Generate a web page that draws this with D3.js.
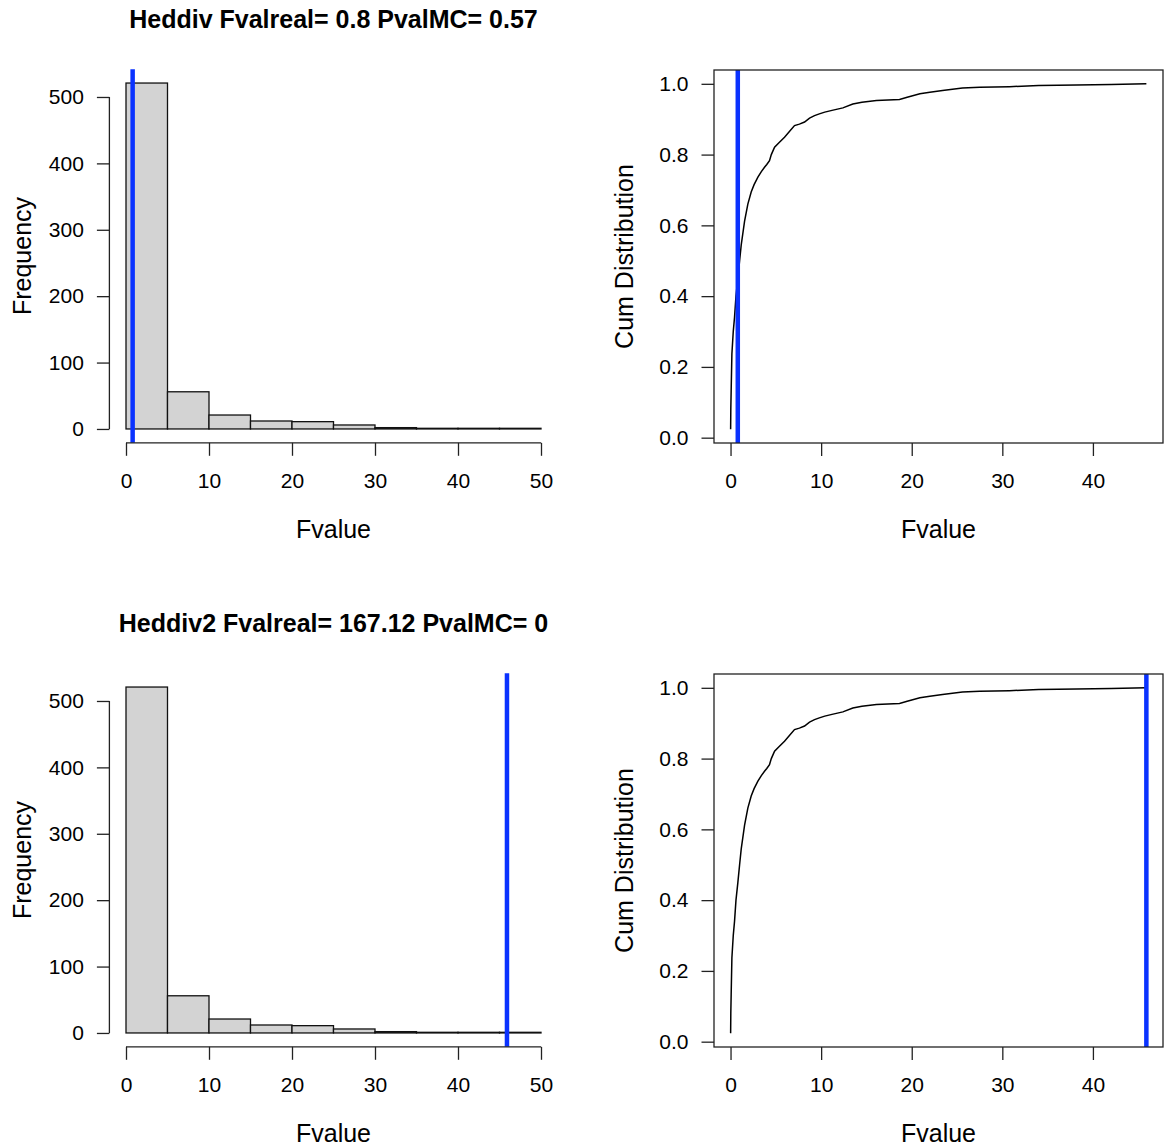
<!DOCTYPE html>
<html>
<head>
<meta charset="utf-8">
<script src="https://cdn.jsdelivr.net/npm/d3@7"></script>
<style>
  html, body { margin: 0; padding: 0; background: #fff; }
  svg { display: block; }
  text { font-family: "Liberation Sans", Arial, Helvetica, sans-serif; fill: #000; }
</style>
</head>
<body>
<svg id="chart" width="1167" height="1146"></svg>
<script>
// ---------- data ----------
const titles = ["Heddiv Fvalreal= 0.8 PvalMC= 0.57", "Heddiv2 Fvalreal= 167.12 PvalMC= 0"];
const fvalLines = [0.8, 45.9];
const histBreaks = [0, 5, 10, 15, 20, 25, 30, 35, 40, 45, 50];
const histCounts = [521, 56, 21, 12, 11, 6, 2, 1, 1, 1];
const histXTicks = [0, 10, 20, 30, 40, 50];
const histYTicks = [0, 100, 200, 300, 400, 500];
const cdfXTicks = [0, 10, 20, 30, 40];
const cdfYTicks = [0, 0.2, 0.4, 0.6, 0.8, 1.0];
const cdfX = [0.01, 0.03, 0.07, 0.15, 0.3, 0.44, 0.6, 0.81, 1.0, 1.18, 1.55, 1.91, 2.28, 2.6, 3.02, 3.4, 3.75, 4.0, 4.3, 4.5, 4.86, 5.4, 5.96, 6.5, 7.06, 7.6, 8.17, 8.72, 9.27, 9.8, 10.4, 11.2, 12.4, 13.5, 14.5, 16.1, 18.65, 19.5, 20.9, 22.0, 23.4, 25.6, 27.5, 30.8, 34.0, 38.2, 42.0, 45.9];
const cdfY = [0.024, 0.08, 0.134, 0.237, 0.30, 0.34, 0.40, 0.45, 0.50, 0.545, 0.612, 0.66, 0.694, 0.715, 0.736, 0.752, 0.764, 0.772, 0.783, 0.80, 0.821, 0.835, 0.849, 0.865, 0.882, 0.886, 0.892, 0.903, 0.910, 0.915, 0.920, 0.925, 0.932, 0.943, 0.948, 0.953, 0.956, 0.962, 0.972, 0.976, 0.981, 0.988, 0.990, 0.992, 0.995, 0.997, 0.998, 1.0];
const xLabel = "Fvalue";
const histYLabel = "Frequency";
const cdfYLabel = "Cum Distribution";

// ---------- layout ----------
const svg = d3.select("#chart");
const rowOffset = 604;
const blue = "#0a32ff";
const tickFont = 21, labFont = 25;

function expand(lo, hi) { const r = hi - lo; return [lo - 0.04 * r, hi + 0.04 * r]; }

function styleAxis(g) {
  g.selectAll(".tick line").attr("stroke", "#222").attr("stroke-width", 1.3);
  g.selectAll(".tick text").attr("font-size", tickFont).attr("fill", "#000")
    .style("font-family", '"Liberation Sans", Arial, sans-serif');
}

function drawHist(row) {
  const oy = row * rowOffset;
  const g = svg.append("g").attr("transform", `translate(0,${oy})`);
  const x = d3.scaleLinear().domain(expand(histBreaks[0], histBreaks[histBreaks.length - 1])).range([109.4, 557.6]);
  const y = d3.scaleLinear().domain(expand(0, d3.max(histCounts))).range([442.8, 69.2]);

  g.selectAll("rect.bar").data(histCounts).join("rect")
    .attr("class", "bar")
    .attr("x", (d, i) => x(histBreaks[i]))
    .attr("width", (d, i) => x(histBreaks[i + 1]) - x(histBreaks[i]))
    .attr("y", d => y(d))
    .attr("height", d => y(0) - y(d))
    .attr("fill", "#d3d3d3").attr("stroke", "#111").attr("stroke-width", 1.3);

  g.append("line").attr("x1", x(fvalLines[row])).attr("x2", x(fvalLines[row]))
    .attr("y1", y.range()[1]).attr("y2", y.range()[0])
    .attr("stroke", blue).attr("stroke-width", 4.5);

  const xa = g.append("g").attr("transform", `translate(0,${y.range()[0]})`)
    .call(d3.axisBottom(x).tickValues(histXTicks).tickSize(13).tickPadding(17).tickFormat(d3.format("d")));
  xa.select(".domain").remove();
  xa.append("line").attr("x1", x(histXTicks[0])).attr("x2", x(histXTicks[histXTicks.length - 1]))
    .attr("stroke", "#222").attr("stroke-width", 1.3);
  styleAxis(xa);

  const ya = g.append("g").attr("transform", `translate(${x.range()[0]},0)`)
    .call(d3.axisLeft(y).tickValues(histYTicks).tickSize(12.5).tickPadding(13).tickFormat(d3.format("d")));
  ya.select(".domain").remove();
  ya.append("line").attr("y1", y(histYTicks[0])).attr("y2", y(histYTicks[histYTicks.length - 1]))
    .attr("stroke", "#222").attr("stroke-width", 1.3);
  styleAxis(ya);

  g.append("text").attr("x", (x.range()[0] + x.range()[1]) / 2).attr("y", 28)
    .attr("text-anchor", "middle").attr("font-size", 25).attr("font-weight", "bold").text(titles[row]);
  g.append("text").attr("x", (x.range()[0] + x.range()[1]) / 2).attr("y", 538)
    .attr("text-anchor", "middle").attr("font-size", labFont).text(xLabel);
  g.append("text").attr("transform", `translate(30.5,${(y.range()[0] + y.range()[1]) / 2}) rotate(-90)`)
    .attr("text-anchor", "middle").attr("font-size", labFont).text(histYLabel);
}

function drawCdf(row) {
  const oy = row * rowOffset;
  const g = svg.append("g").attr("transform", `translate(0,${oy})`);
  const x = d3.scaleLinear().domain(expand(d3.min(cdfX), d3.max(cdfX))).range([714, 1163]);
  const y = d3.scaleLinear().domain(expand(d3.min(cdfY), d3.max(cdfY))).range([443, 70]);
  const pts = cdfX.map((v, i) => [v, cdfY[i]]);

  g.append("path").datum(pts)
    .attr("d", d3.line().x(d => x(d[0])).y(d => y(d[1])))
    .attr("fill", "none").attr("stroke", "#000").attr("stroke-width", 1.5);

  g.append("line").attr("x1", x(fvalLines[row])).attr("x2", x(fvalLines[row]))
    .attr("y1", 70).attr("y2", 443)
    .attr("stroke", blue).attr("stroke-width", 4.5);

  g.append("rect").attr("x", 714).attr("y", 70).attr("width", 449).attr("height", 373)
    .attr("fill", "none").attr("stroke", "#222").attr("stroke-width", 1.3);

  const xa = g.append("g").attr("transform", `translate(0,443)`)
    .call(d3.axisBottom(x).tickValues(cdfXTicks).tickSize(13).tickPadding(17).tickFormat(d3.format("d")));
  xa.select(".domain").remove();
  styleAxis(xa);

  const ya = g.append("g").attr("transform", `translate(714,0)`)
    .call(d3.axisLeft(y).tickValues(cdfYTicks).tickSize(12.5).tickPadding(13).tickFormat(d3.format(".1f")));
  ya.select(".domain").remove();
  styleAxis(ya);

  g.append("text").attr("x", (714 + 1163) / 2).attr("y", 538)
    .attr("text-anchor", "middle").attr("font-size", labFont).text(xLabel);
  g.append("text").attr("transform", `translate(633,${(70 + 443) / 2}) rotate(-90)`)
    .attr("text-anchor", "middle").attr("font-size", labFont).text(cdfYLabel);
}

[0, 1].forEach(r => { drawHist(r); drawCdf(r); });
</script>
</body>
</html>
